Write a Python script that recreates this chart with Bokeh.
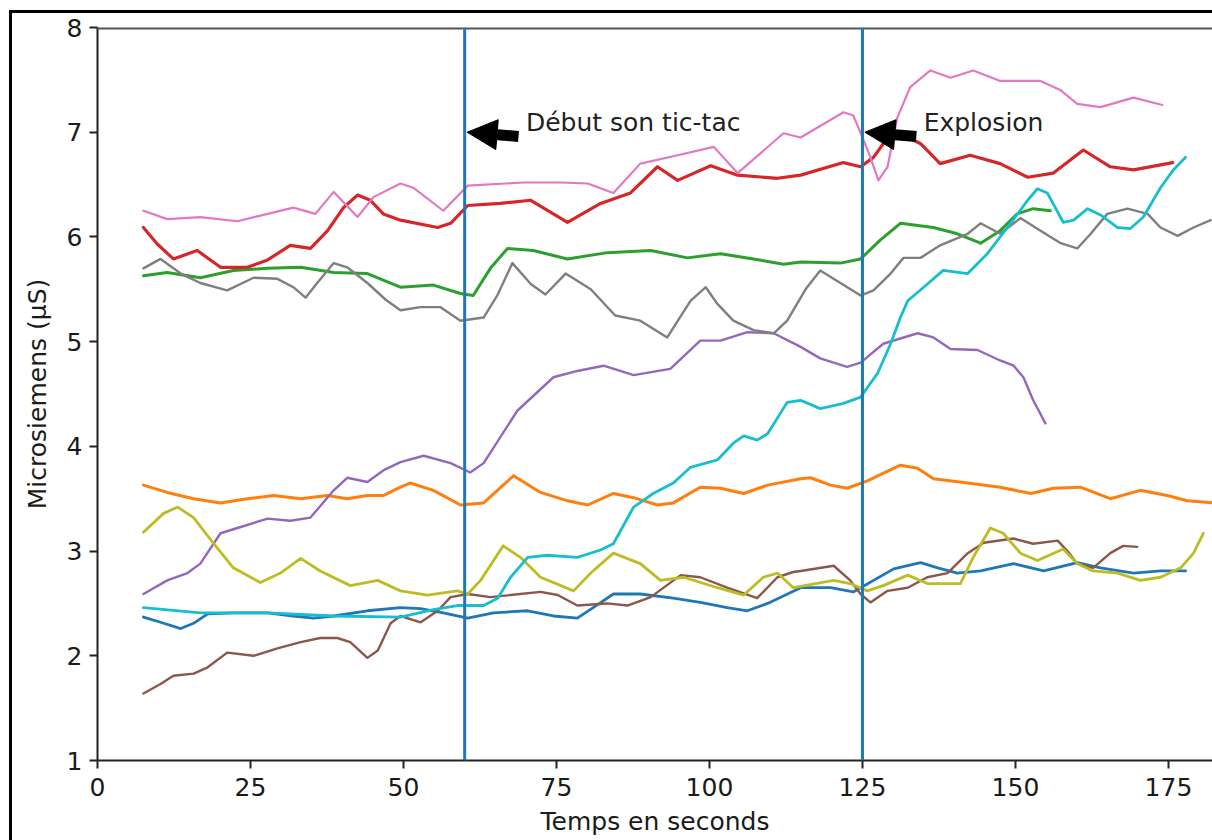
from bokeh.plotting import figure
from bokeh.models import Span, Arrow, NormalHead, Label, FixedTicker, Range1d, InlineStyleSheet
from bokeh.embed import file_html
from bokeh.resources import INLINE

# ---------------- data ----------------
x_ticks = [0, 25, 50, 75, 100, 125, 150, 175]
y_ticks = [1, 2, 3, 4, 5, 6, 7, 8]

event_times = [60, 125]
event_labels = ["Début son tic-tac", "Explosion"]
event_text_x = [70, 135]
event_text_y = [7.0, 7.0]

blue_x = [7.5, 10.3, 13.6, 15.7, 18.0, 22.2, 27.8, 32.0, 35.3, 38.6, 44.1, 49.5, 52.8, 56.5, 60.5,
          64.7, 70.3, 74.5, 78.4, 81.0, 84.3, 88.7, 94.1, 98.5, 102.9, 106.2, 109.5, 114.9, 119.8,
          123.5, 130.1, 134.5, 137.3, 140.5, 144.3, 149.7, 154.6, 160.1, 163.9, 169.3, 173.7, 177.8]
blue_y = [2.37, 2.32, 2.26, 2.31, 2.40, 2.41, 2.41, 2.38, 2.36, 2.38, 2.43, 2.46, 2.45, 2.41, 2.36,
          2.41, 2.43, 2.38, 2.36, 2.46, 2.59, 2.59, 2.55, 2.51, 2.46, 2.43, 2.50, 2.65, 2.65,
          2.61, 2.83, 2.89, 2.84, 2.79, 2.81, 2.88, 2.81, 2.89, 2.84, 2.79, 2.81, 2.81]

orange_x = [7.5, 11.4, 15.7, 20.1, 24.5, 28.8, 33.2, 37.6, 40.8, 44.1, 46.7, 49.5, 51.1, 54.9, 59.3,
            63.1, 68.0, 72.4, 76.8, 80.1, 84.3, 87.6, 91.5, 94.1, 98.5, 101.8, 105.6, 109.5, 114.9,
            116.5, 119.8, 122.5, 125.8, 131.2, 134.0, 136.6, 142.2, 147.5, 152.5, 156.2, 160.6,
            165.5, 170.4, 174.8, 178.1, 182.2]
orange_y = [3.63, 3.56, 3.50, 3.46, 3.50, 3.53, 3.50, 3.53, 3.50, 3.53, 3.53, 3.61, 3.65, 3.58, 3.44,
            3.46, 3.72, 3.56, 3.48, 3.44, 3.55, 3.51, 3.44, 3.46, 3.61, 3.60, 3.55, 3.63, 3.69,
            3.70, 3.63, 3.60, 3.67, 3.82, 3.79, 3.69, 3.65, 3.61, 3.55, 3.60, 3.61,
            3.50, 3.58, 3.53, 3.48, 3.46]

green_x = [7.5, 11.4, 16.8, 22.2, 27.8, 33.2, 38.6, 44.1, 49.5, 54.9, 59.3, 61.4, 64.2, 67.0, 71.2,
           76.8, 83.3, 90.4, 96.4, 101.8, 107.2, 112.1, 114.9, 121.4, 124.7, 127.9, 131.2, 136.6,
           140.5, 144.3, 147.5, 150.3, 152.9, 155.7]
green_y = [5.63, 5.66, 5.61, 5.68, 5.70, 5.71, 5.66, 5.65, 5.52, 5.54, 5.46, 5.44, 5.70, 5.89, 5.87,
           5.79, 5.85, 5.87, 5.80, 5.84, 5.79, 5.74, 5.76, 5.75, 5.79, 5.97, 6.13, 6.09,
           6.03, 5.94, 6.06, 6.22, 6.27, 6.25]

red_x = [7.5, 9.8, 12.4, 16.3, 20.1, 24.5, 27.8, 31.5, 34.8, 37.6, 40.2, 42.5, 44.6, 46.7, 49.5,
         55.6, 57.7, 60.5, 65.8, 70.8, 76.8, 82.2, 87.1, 91.5, 94.8, 100.2, 104.6, 111.1, 114.9,
         121.9, 124.7, 126.8, 128.4, 131.2, 134.5, 137.7, 142.6, 147.5, 152.0, 156.2, 161.1,
         165.5, 169.3, 175.7]
red_y = [6.09, 5.93, 5.79, 5.87, 5.71, 5.71, 5.78, 5.92, 5.89, 6.06, 6.28, 6.40, 6.35, 6.22, 6.16,
         6.09, 6.13, 6.30, 6.32, 6.35, 6.14, 6.32, 6.42, 6.67, 6.54, 6.68, 6.59, 6.56, 6.59,
         6.71, 6.67, 6.76, 6.89, 6.99, 6.89, 6.70, 6.78, 6.70, 6.57, 6.61, 6.83,
         6.67, 6.64, 6.71]

purple_x = [7.5, 11.4, 14.7, 16.8, 20.1, 23.4, 27.8, 31.5, 34.8, 38.6, 40.8, 44.1, 46.7, 49.5, 53.3,
            57.7, 60.9, 63.1, 68.6, 74.5, 78.4, 82.7, 87.6, 93.6, 98.5, 101.8, 106.2, 110.5, 114.9,
            118.1, 122.5, 124.7, 128.4, 134.0, 136.6, 139.4, 143.8, 147.5, 149.7, 151.3, 152.9, 154.9]
purple_y = [2.59, 2.72, 2.79, 2.88, 3.17, 3.23, 3.31, 3.29, 3.32, 3.58, 3.70, 3.66, 3.77, 3.85, 3.91,
            3.84, 3.75, 3.84, 4.34, 4.66, 4.72, 4.77, 4.68, 4.74, 5.01, 5.01, 5.09, 5.08, 4.95,
            4.84, 4.76, 4.80, 4.98, 5.08, 5.04, 4.93, 4.92, 4.82, 4.77, 4.66, 4.44, 4.22]

brown_x = [7.5, 10.3, 12.4, 15.7, 18.0, 21.2, 25.5, 29.4, 33.2, 36.4, 39.2, 41.3, 44.1, 45.8, 47.9,
           49.5, 52.8, 55.6, 57.7, 60.5, 64.2, 67.5, 72.4, 75.2, 78.4, 83.3, 86.6, 90.4, 95.3, 98.5,
           102.9, 107.8, 111.1, 113.7, 114.9, 120.3, 123.0, 124.7, 126.3, 129.1, 132.4, 135.6,
           138.9, 142.2, 144.8, 149.7, 152.9, 156.9, 158.5, 160.1, 162.7, 165.5, 167.6, 169.9]
brown_y = [1.64, 1.73, 1.81, 1.83, 1.89, 2.03, 2.00, 2.07, 2.13, 2.17, 2.17, 2.13, 1.98, 2.05, 2.31,
           2.38, 2.32, 2.43, 2.56, 2.59, 2.56, 2.58, 2.61, 2.58, 2.48, 2.50, 2.48, 2.56, 2.77, 2.75,
           2.65, 2.55, 2.75, 2.80, 2.81, 2.86, 2.72, 2.59, 2.51, 2.62, 2.65, 2.75,
           2.79, 2.98, 3.08, 3.12, 3.07, 3.10, 3.00, 2.88, 2.84, 2.98, 3.05, 3.04]

pink_x = [7.5, 11.4, 16.8, 22.9, 27.8, 32.0, 35.6, 38.6, 42.5, 45.1, 49.5, 51.6, 56.5, 60.5, 69.6,
          75.7, 80.1, 84.3, 88.7, 94.8, 100.7, 104.6, 112.1, 114.9, 121.9, 123.5, 125.0, 126.3,
          127.6, 129.1, 130.7, 132.8, 136.1, 139.4, 143.1, 147.5, 154.1, 157.4, 160.1, 163.9,
          169.3, 174.0]
pink_y = [6.25, 6.17, 6.19, 6.15, 6.22, 6.28, 6.22, 6.43, 6.19, 6.38, 6.51, 6.47, 6.25, 6.49, 6.52,
          6.52, 6.51, 6.42, 6.70, 6.78, 6.86, 6.61, 6.99, 6.95, 7.19, 7.16, 6.95, 6.76,
          6.54, 6.67, 7.14, 7.43, 7.59, 7.52, 7.59, 7.49, 7.49, 7.40, 7.27, 7.24,
          7.33, 7.26]

gray_x = [7.5, 10.3, 13.6, 16.8, 21.2, 25.5, 29.4, 32.0, 34.0, 35.9, 38.6, 40.8, 44.1, 47.1, 49.5,
          52.8, 56.0, 59.3, 63.1, 65.4, 67.8, 70.8, 73.2, 76.5, 80.6, 84.6, 88.7, 93.1, 96.9, 99.4,
          101.3, 103.9, 107.2, 110.5, 112.7, 115.7, 118.1, 121.4, 124.7, 126.8, 129.6, 131.7,
          134.5, 137.7, 142.2, 144.3, 147.5, 150.8, 154.1, 157.4, 160.1, 162.3, 165.0, 168.3,
          171.6, 173.7, 176.5, 179.1, 181.9]
gray_y = [5.70, 5.79, 5.65, 5.56, 5.49, 5.61, 5.60, 5.52, 5.42, 5.56, 5.75, 5.71, 5.56, 5.40, 5.30,
          5.33, 5.33, 5.20, 5.23, 5.45, 5.75, 5.55, 5.45, 5.65, 5.50, 5.25, 5.20, 5.04, 5.39, 5.52,
          5.36, 5.20, 5.11, 5.08, 5.20, 5.50, 5.68, 5.56, 5.44, 5.49, 5.65, 5.80,
          5.80, 5.92, 6.03, 6.13, 6.03, 6.18, 6.06, 5.94, 5.89, 6.03, 6.22, 6.27,
          6.22, 6.09, 6.01, 6.09, 6.16]

olive_x = [7.5, 10.8, 13.1, 15.7, 19.0, 22.2, 26.6, 29.9, 33.2, 36.4, 41.3, 45.8, 49.5, 53.9, 58.8,
           60.5, 62.6, 66.3, 69.1, 72.4, 77.8, 80.6, 84.3, 88.7, 92.0, 95.8, 101.3, 105.6, 108.8,
           111.1, 113.7, 120.3, 123.0, 125.8, 128.4, 132.4, 135.6, 141.0, 143.1, 145.9, 148.0,
           150.8, 153.6, 157.8, 160.1, 162.7, 166.7, 170.4, 173.7, 177.0, 179.1, 180.7]
olive_y = [3.18, 3.36, 3.42, 3.32, 3.07, 2.84, 2.70, 2.79, 2.93, 2.81, 2.67, 2.72, 2.62, 2.58, 2.62,
           2.59, 2.72, 3.05, 2.94, 2.75, 2.62, 2.79, 2.98, 2.88, 2.72, 2.75, 2.65, 2.58, 2.75,
           2.79, 2.65, 2.72, 2.69, 2.62, 2.67, 2.77, 2.69, 2.69, 2.94, 3.22, 3.17,
           2.98, 2.91, 3.02, 2.88, 2.81, 2.79, 2.72, 2.75, 2.84, 2.98, 3.17]

cyan_x = [7.5, 16.8, 27.8, 38.6, 49.5, 54.9, 58.8, 63.1, 65.4, 67.5, 70.3, 73.5, 78.4, 82.2, 84.3,
          87.6, 90.8, 94.1, 96.9, 101.3, 103.9, 105.6, 107.8, 109.5, 112.7, 114.9, 118.1, 121.9,
          124.7, 127.5, 129.6, 131.2, 132.4, 135.0, 138.2, 142.2, 145.4, 148.7, 152.0, 153.6,
          155.2, 157.8, 159.5, 161.8, 163.9, 166.7, 168.8, 170.9, 173.7, 175.8, 177.8]
cyan_y = [2.46, 2.41, 2.41, 2.38, 2.37, 2.44, 2.48, 2.48, 2.55, 2.75, 2.94, 2.96, 2.94, 3.01, 3.07,
          3.42, 3.55, 3.65, 3.80, 3.87, 4.03, 4.10, 4.06, 4.12, 4.42, 4.44, 4.36, 4.41,
          4.47, 4.70, 4.98, 5.23, 5.39, 5.52, 5.68, 5.65, 5.84, 6.09, 6.35, 6.46,
          6.42, 6.14, 6.16, 6.27, 6.21, 6.09, 6.08, 6.19, 6.47, 6.64, 6.76]

series_x = [blue_x, orange_x, green_x, red_x, purple_x, brown_x, pink_x, gray_x, olive_x, cyan_x]
series_y = [blue_y, orange_y, green_y, red_y, purple_y, brown_y, pink_y, gray_y, olive_y, cyan_y]

# ---------------- styles ----------------
colors = ["#1f77b4", "#ff7f0e", "#2ca02c", "#d62728", "#9467bd",
          "#8c564b", "#e377c2", "#7f7f7f", "#bcbd22", "#17becf"]
widths = [2.8, 3.0, 3.0, 3.2, 2.4, 2.4, 2.2, 2.4, 2.8, 2.8]
FONT = "DejaVu Sans"
FS = "25px"

frame_css = InlineStyleSheet(css="""
:host::after {
  content: "";
  position: absolute;
  left: 9px; top: 10px; right: 0px; bottom: 0px;
  border-left: 3px solid #000;
  border-top: 3px solid #000;
  pointer-events: none;
}
""")

p = figure(width=1212, height=840, output_backend="svg", toolbar_location=None,
           x_range=Range1d(0, 182.2), y_range=Range1d(1, 8),
           min_border_left=97, min_border_right=0, min_border_top=27, min_border_bottom=80,
           background_fill_color="white", border_fill_color="white")
p.stylesheets = [frame_css]
p.outline_line_color = None
p.grid.visible = False

for xs, ys, c, w in zip(series_x, series_y, colors, widths):
    p.line(xs, ys, line_color=c, line_width=w, line_join="round", line_cap="round")

# axes
p.xaxis.ticker = FixedTicker(ticks=x_ticks)
p.yaxis.ticker = FixedTicker(ticks=y_ticks)
for ax in (p.xaxis[0], p.yaxis[0]):
    ax.axis_line_color = "#222"
    ax.axis_line_width = 2
    ax.major_tick_line_color = "#222"
    ax.major_tick_line_width = 2
    ax.major_tick_out = 8
    ax.major_tick_in = 0
    ax.minor_tick_line_color = None
    ax.major_label_text_font = FONT
    ax.major_label_text_font_size = FS
    ax.major_label_text_color = "#1a1a1a"
    ax.axis_label_text_font = FONT
    ax.axis_label_text_font_size = FS
    ax.axis_label_text_font_style = "normal"
    ax.axis_label_text_color = "#1a1a1a"
p.xaxis.axis_label = "Temps en seconds"
p.yaxis.axis_label = "Microsiemens (µS)"
p.xaxis.major_label_standoff = 9
p.yaxis.major_label_standoff = 7
p.xaxis.axis_label_standoff = 8
p.yaxis.axis_label_standoff = 12

# top spine
p.add_layout(Span(location=y_ticks[-1], dimension="width", line_color="#555", line_width=4))

# event lines
for t in event_times:
    p.add_layout(Span(location=t, dimension="height", line_color="#1f77b4", line_width=3))

# annotations
for t, lab, tx, ty in zip(event_times, event_labels, event_text_x, event_text_y):
    p.add_layout(Arrow(end=NormalHead(size=30, fill_color="black", line_color="black"),
                       x_start=tx - 1.2, y_start=ty - 0.04, x_end=t + 0.4, y_end=ty,
                       line_color="black", line_width=11))
    p.add_layout(Label(x=tx, y=ty, y_offset=10, text=lab, text_font=FONT, text_font_size=FS,
                       text_color="#222", text_baseline="alphabetic", text_align="left"))

open("out.html", "w").write(file_html(p, INLINE))
